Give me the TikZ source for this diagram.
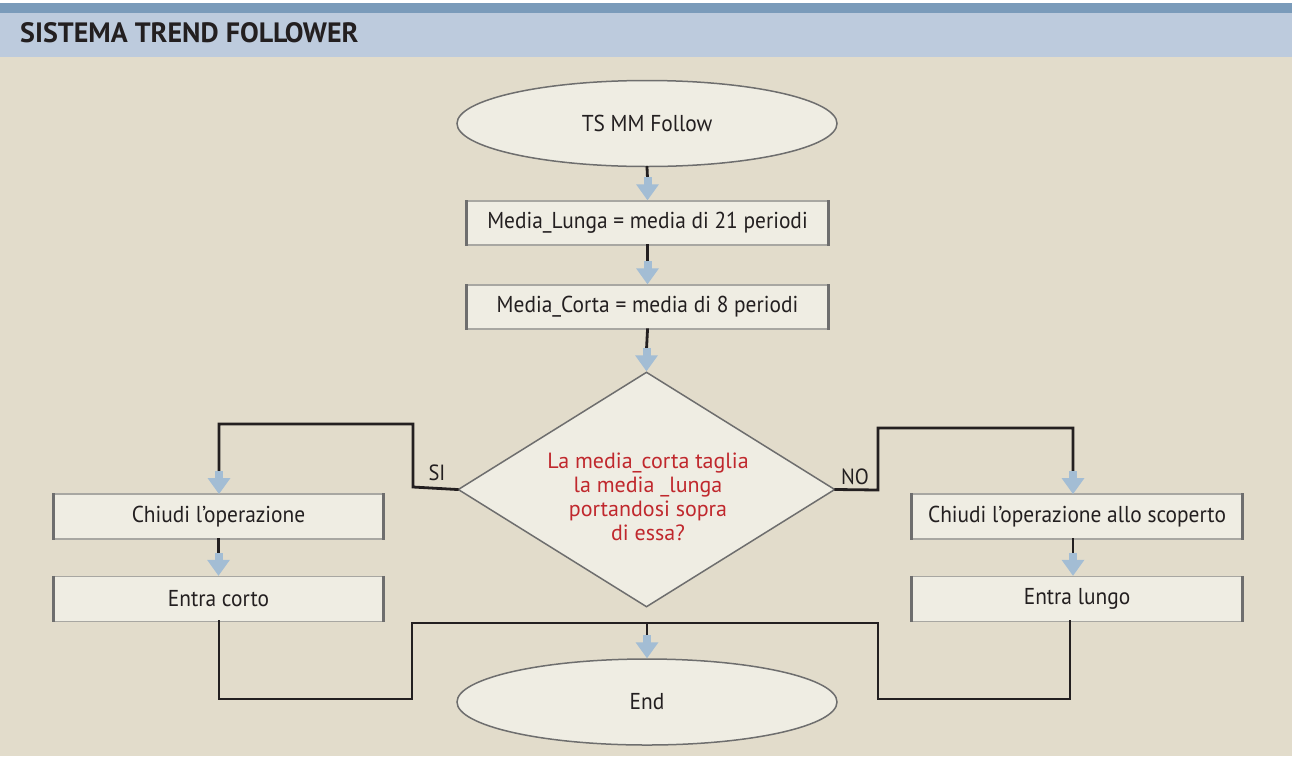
\documentclass[tikz,border=0pt]{standalone}
\usepackage{fontspec}
\setmainfont{PT Sans}
\newfontfamily\titlefont[FakeStretch=1.0]{PT Sans Bold}
\newfontfamily\bodyfont[FakeStretch=0.93]{PT Sans}
\usetikzlibrary{shapes.geometric,calc}
\definecolor{bgbeige}{HTML}{E2DCCB}
\definecolor{barblue}{HTML}{7A9BBA}
\definecolor{headblue}{HTML}{BDCBDD}
\definecolor{nodefill}{HTML}{EFEDE3}
\definecolor{edgegray}{HTML}{6E6E6E}
\definecolor{lightedge}{HTML}{A8A7A2}
\definecolor{arrowblue}{HTML}{A3BDD4}
\definecolor{linek}{HTML}{231F20}
\definecolor{qred}{HTML}{C0282D}
\tikzset{
  term/.style={ellipse, draw=edgegray, line width=1.5pt, fill=nodefill, minimum width=380pt, minimum height=86pt, inner sep=0pt, font=\bodyfont\fontsize{23}{26}\selectfont, text=linek},
  procbox/.style={rectangle, draw=lightedge, line width=1.5pt, fill=nodefill, inner sep=0pt, font=\bodyfont\fontsize{23}{26}\selectfont, text=linek},
  sideedge/.style={draw=edgegray, line width=3pt},
  decision/.style={diamond, draw=edgegray, line width=1.5pt, fill=nodefill, minimum width=377pt, minimum height=235pt, inner sep=0pt, aspect=1.6},
  conn/.style={draw=linek, line width=2.8pt, line cap=rect},
  lbl/.style={font=\bodyfont\fontsize{22}{24}\selectfont, text=linek, inner sep=0pt}
}
\newcommand{\bluehead}[1]{%
  \fill[arrowblue] ($(#1)+(-4,-23)$) rectangle ($(#1)+(4,-15)$);
  \fill[arrowblue] ($(#1)+(-11.5,-16)$) -- (#1) -- ($(#1)+(11.5,-16)$) -- cycle;}
\begin{document}
\begin{tikzpicture}[x=1pt,y=-1pt]
\useasboundingbox (0,0) rectangle (1292,756);
% background
\fill[bgbeige] (0,0) rectangle (1292,756);
\fill[white] (0,0) rectangle (1292,3);
\fill[barblue] (0,3) rectangle (1292,13);
\fill[headblue] (0,13) rectangle (1292,57);
\node[anchor=base west, inner sep=0pt, font=\titlefont\fontsize{28}{30}\selectfont, text=linek] (title) at (20,42) {SISTEMA TREND FOLLOWER};

% nodes
\node[term] (start) at (647,123.5) {TS MM Follow};
\node[procbox, minimum width=361pt, minimum height=44pt] (b1) at (647.5,223) {Media\_Lunga = media di 21 periodi};
\node[procbox, minimum width=361pt, minimum height=44pt] (b2) at (647.5,307) {Media\_Corta = media di 8 periodi};
\node[decision] (dec) at (646.5,489.5) {};
\node[align=center, font=\fontsize{22}{24}\selectfont, text=qred, inner sep=0pt] (dectext) at (648,497) {La media\_corta taglia\\la media \_lunga\\portandosi sopra\\di essa?};
\node[procbox, minimum width=329pt, minimum height=45pt] (b3) at (218.5,516.5) {Chiudi l’operazione};
\node[procbox, minimum width=329pt, minimum height=45pt] (b4) at (218.5,599) {Entra corto};
\node[procbox, minimum width=329pt, minimum height=45pt] (b5) at (1077,516.5) {Chiudi l’operazione allo scoperto};
\node[procbox, minimum width=329pt, minimum height=45pt] (b6) at (1077,599) {Entra lungo};
\node[term] (end) at (647,702) {End};

% side edges of boxes
\foreach \b in {b1,b2,b3,b4,b5,b6}{
  \draw[sideedge] (\b.north west) -- (\b.south west);
  \draw[sideedge] (\b.north east) -- (\b.south east);
}

% labels
\node[lbl, anchor=base] (si) at (437,480) {SI};
\node[lbl, anchor=base] (no) at (855,484) {NO};

% coordinates for routing
\coordinate (b3in) at (219,494);
\coordinate (b5in) at (1073,494);
\coordinate (b4out) at (219,621);
\coordinate (b6out) at (1070,621);
\coordinate (join) at (647,623);

% connectors
\draw[conn] (start.south) -- ($(b1.north)+(0,-22)$);
\bluehead{b1.north}
\draw[conn] (b1.south) -- ($(b2.north)+(0,-22)$);
\bluehead{b2.north}
\draw[conn] (b2.south) -- ($(dec.north)+(0,-22)$);
\bluehead{dec.north}

\draw[conn] (dec.west) -- (413,487) -- (413,424) -- (219,424) -- ($(b3in)+(0,-22)$);
\bluehead{b3in}
\draw[conn] (b3.south) -- ($(b4.north)+(0,-22)$);
\bluehead{b4.north}

\draw[conn] (dec.east) -- (878,490) -- (878,428) -- (1073,428) -- ($(b5in)+(0,-22)$);
\bluehead{b5in}
\draw[conn] (b5.south -| b5in) -- ($(b6.north -| b5in)+(0,-22)$);
\bluehead{b6.north -| b5in}

\draw[conn] (b4out) -- (219,699) -- (412,699) -- (412,623) -- (878,623) -- (878,699) -- (1070,699) -- (b6out);
\draw[conn] (join) -- ($(end.north)+(0,-22)$);
\bluehead{end.north}
\end{tikzpicture}
\end{document}
